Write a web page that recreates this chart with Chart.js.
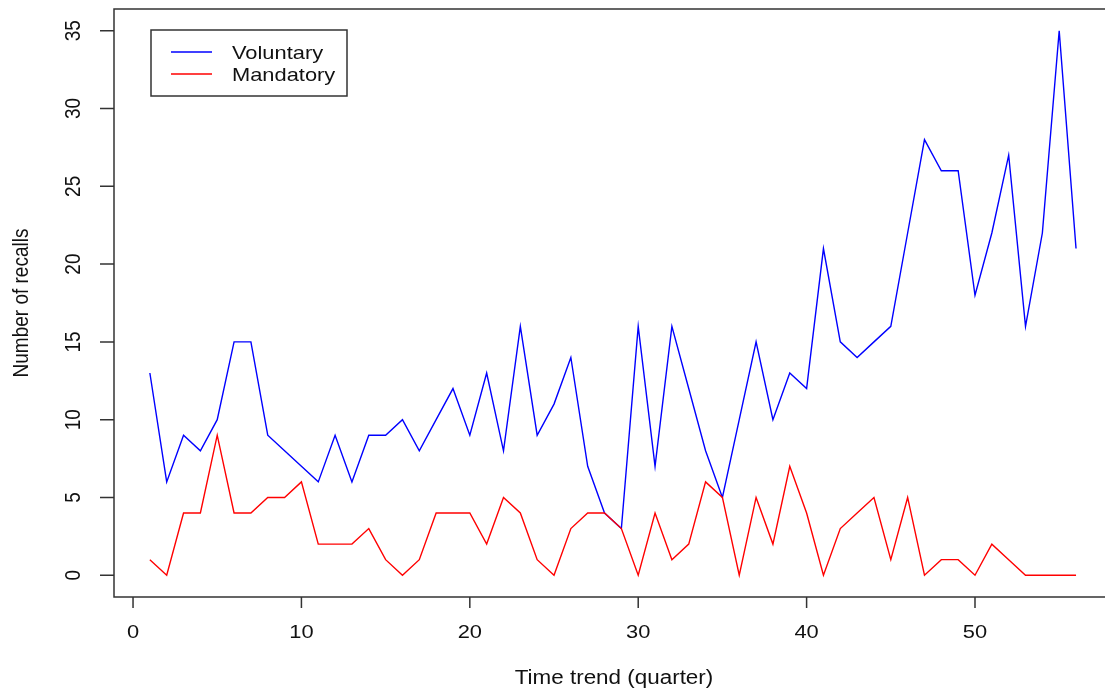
<!DOCTYPE html>
<html>
<head>
<meta charset="utf-8">
<title>Voluntary and mandatory recalls</title>
<script src="https://cdn.jsdelivr.net/npm/chart.js@4.4.1/dist/chart.umd.min.js"></script>
<style>
  html, body { margin: 0; padding: 0; background: #fff; }
  #chart { display: block; }
</style>
</head>
<body>
<canvas id="chart" width="1105" height="690"></canvas>
<script>
// Data
const quarters = [1, 2, 3, 4, 5, 6, 7, 8, 9, 10, 11, 12, 13, 14, 15, 16, 17, 18, 19, 20,
                  21, 22, 23, 24, 25, 26, 27, 28, 29, 30, 31, 32, 33, 34, 35, 36, 37, 38, 39, 40,
                  41, 42, 43, 44, 45, 46, 47, 48, 49, 50, 51, 52, 53, 54, 55, 56];
const voluntary = [13, 6, 9, 8, 10, 15, 15, 9, 8, 7, 6, 9, 6, 9, 9, 10, 8, 10, 12, 9,
                   13, 8, 16, 9, 11, 14, 7, 4, 3, 16, 7, 16, 12, 8, 5, 10, 15, 10, 13, 12,
                   21, 15, 14, 15, 16, 22, 28, 26, 26, 18, 22, 27, 16, 22, 35, 21];
const mandatory = [1, 0, 4, 4, 9, 4, 4, 5, 5, 6, 2, 2, 2, 3, 1, 0, 1, 4, 4, 4,
                   2, 5, 4, 1, 0, 3, 4, 4, 3, 0, 4, 1, 2, 6, 5, 0, 5, 2, 7, 4,
                   0, 3, 4, 5, 1, 5, 0, 1, 1, 0, 2, 1, 0, 0, 0, 0];
const xTicks = [0, 10, 20, 30, 40, 50];
const yTicks = [0, 5, 10, 15, 20, 25, 30, 35];
const xTitle = 'Time trend (quarter)';
const yTitle = 'Number of recalls';

const FONT = '"Liberation Sans", Arial, sans-serif';
const STRETCH = 1.15; // text in the original is a bit wider than tall

function toPoints(vals) {
    return quarters.map((q, i) => ({ x: q, y: vals[i] }));
}

// text helpers (horizontal / rotated, both stretched a little in x)
function hText(ctx, str, x, y, size, align) {
    ctx.save();
    ctx.translate(x, y);
    ctx.scale(STRETCH, 1);
    ctx.font = size + 'px ' + FONT;
    ctx.textAlign = align || 'center';
    ctx.textBaseline = 'alphabetic';
    ctx.fillText(str, 0, 0);
    ctx.restore();
}

function vText(ctx, str, x, y, size) {
    ctx.save();
    ctx.translate(x, y);
    ctx.scale(STRETCH, 1);
    ctx.rotate(-Math.PI / 2);
    ctx.font = size + 'px ' + FONT;
    ctx.textAlign = 'center';
    ctx.textBaseline = 'alphabetic';
    ctx.fillText(str, 0, 0);
    ctx.restore();
}

// R style box, axes and legend
const rFrame = {
    id: 'rFrame',
    afterDraw(chart) {
        const ctx = chart.ctx;
        const area = chart.chartArea;
        const xs = chart.scales.x;
        const ys = chart.scales.y;

        ctx.save();
        ctx.strokeStyle = '#333';
        ctx.lineWidth = 1.5;

        // box, right side is cut off by the canvas
        ctx.beginPath();
        ctx.moveTo(area.right + 5, area.top);
        ctx.lineTo(area.left, area.top);
        ctx.lineTo(area.left, area.bottom);
        ctx.lineTo(area.right + 5, area.bottom);
        ctx.stroke();

        // ticks
        ctx.beginPath();
        xTicks.forEach(v => {
            const px = xs.getPixelForValue(v);
            ctx.moveTo(px, area.bottom);
            ctx.lineTo(px, area.bottom + 11);
        });
        yTicks.forEach(v => {
            const py = ys.getPixelForValue(v);
            ctx.moveTo(area.left, py);
            ctx.lineTo(area.left - 14, py);
        });
        ctx.stroke();

        // tick labels and titles
        ctx.fillStyle = '#111';
        xTicks.forEach(v => hText(ctx, String(v), xs.getPixelForValue(v), 638, 19));
        yTicks.forEach(v => vText(ctx, String(v), 80, ys.getPixelForValue(v), 19));
        hText(ctx, xTitle, 614, 684, 19.5);
        vText(ctx, yTitle, 28, (area.top + area.bottom) / 2, 19);

        // legend
        ctx.lineWidth = 1.5;
        ctx.strokeStyle = '#333';
        ctx.strokeRect(151, 30, 196, 66);
        const rows = [52, 74];
        chart.data.datasets.forEach((ds, i) => {
            ctx.strokeStyle = ds.borderColor;
            ctx.lineWidth = 1.4;
            ctx.beginPath();
            ctx.moveTo(171, rows[i]);
            ctx.lineTo(212, rows[i]);
            ctx.stroke();
            ctx.fillStyle = '#111';
            hText(ctx, ds.label, 232, rows[i] + 7, 19, 'left');
        });
        ctx.restore();
    }
};

new Chart(document.getElementById('chart'), {
    type: 'line',
    data: {
        datasets: [{
            label: 'Voluntary',
            data: toPoints(voluntary),
            borderColor: '#0000ff',
            borderWidth: 1.4,
            pointRadius: 0,
            tension: 0,
            order: 2
        }, {
            label: 'Mandatory',
            data: toPoints(mandatory),
            borderColor: '#ff0000',
            borderWidth: 1.4,
            pointRadius: 0,
            tension: 0,
            order: 1
        }]
    },
    options: {
        responsive: false,
        animation: false,
        events: [],
        layout: {
            padding: { left: 114, top: 9, right: 0, bottom: 93 }
        },
        scales: {
            x: { type: 'linear', min: -1.13, max: 57.72, display: false },
            y: { type: 'linear', min: -1.4, max: 36.4, display: false }
        },
        plugins: {
            legend: { display: false },
            tooltip: { enabled: false }
        }
    },
    plugins: [rFrame]
});
</script>
</body>
</html>
